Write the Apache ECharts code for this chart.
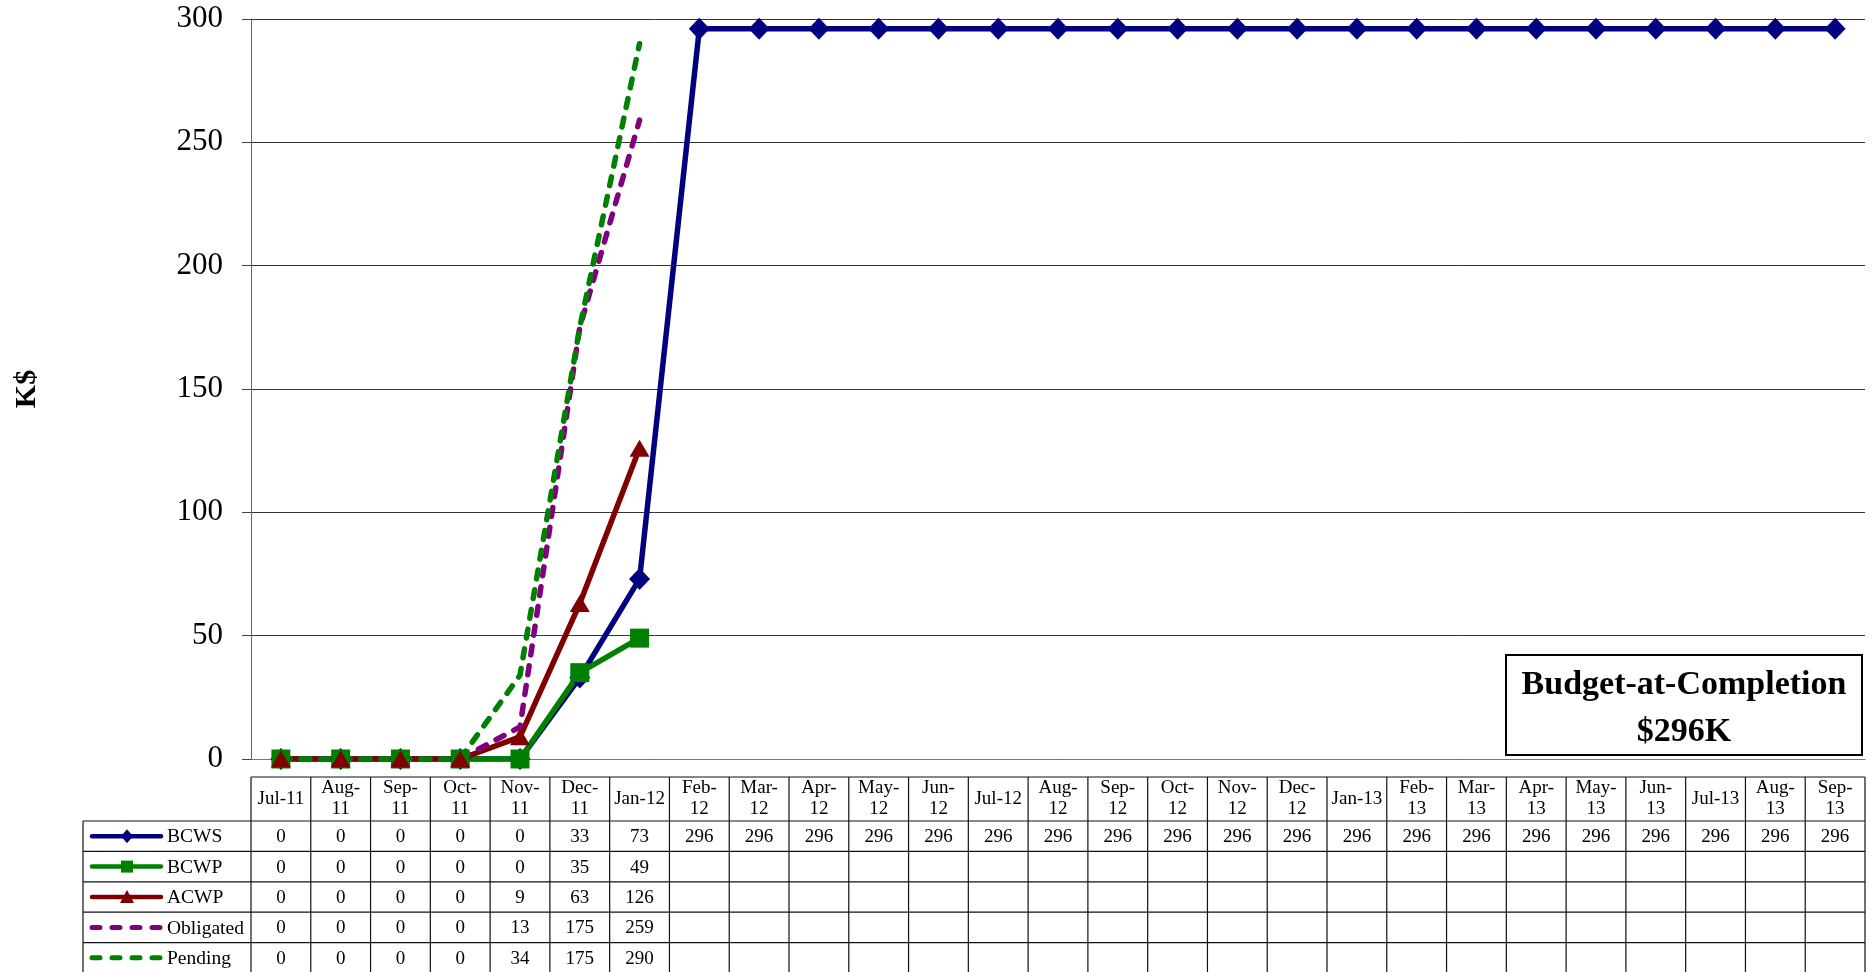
<!DOCTYPE html>
<html><head><meta charset="utf-8">
<script src="https://cdn.jsdelivr.net/npm/echarts@6/dist/echarts.min.js"></script>
<style>html,body{margin:0;padding:0;background:#fff}#c{width:1875px;height:972px}</style>
</head><body><div id="c"></div>
<script>
const categories = ['Jul-11','Aug-11','Sep-11','Oct-11','Nov-11','Dec-11','Jan-12','Feb-12','Mar-12','Apr-12','May-12','Jun-12','Jul-12','Aug-12','Sep-12','Oct-12','Nov-12','Dec-12','Jan-13','Feb-13','Mar-13','Apr-13','May-13','Jun-13','Jul-13','Aug-13','Sep-13'];
const tickLabels = ['Jul-11','Aug-\n11','Sep-\n11','Oct-\n11','Nov-\n11','Dec-\n11','Jan-12','Feb-\n12','Mar-\n12','Apr-\n12','May-\n12','Jun-\n12','Jul-12','Aug-\n12','Sep-\n12','Oct-\n12','Nov-\n12','Dec-\n12','Jan-13','Feb-\n13','Mar-\n13','Apr-\n13','May-\n13','Jun-\n13','Jul-13','Aug-\n13','Sep-\n13'];
const bcws = [0,0,0,0,0,33,73,296,296,296,296,296,296,296,296,296,296,296,296,296,296,296,296,296,296,296,296];
const bcwp = [0,0,0,0,0,35,49];
const acwp = [0,0,0,0,9,63,126];
const obligated = [0,0,0,0,13,175,259];
const pending = [0,0,0,0,34,175,290];
const seriesNames = ['BCWS','BCWP','ACWP','Obligated','Pending'];
const seriesData = [bcws, bcwp, acwp, obligated, pending];
const colors = ['#000080','#008000','#800000','#800080','#008000'];
const markers = ['diamond','rect','triangle','none','none'];
const dashed = [false,false,false,true,true];
const yMin = 0, yMax = 300, yStep = 50;
const annotation = ['Budget-at-Completion', '$296K'];

const FONT = 'Liberation Serif, Times New Roman, serif';
const chart = echarts.init(document.getElementById('c'), null, {renderer: 'canvas'});

const markerSizes = {diamond: [21, 22], rect: 19, triangle: [20, 17]};
const option = {
  animation: false,
  backgroundColor: '#fff',
  grid: {left: 251, right: 10, top: 19, bottom: 213, containLabel: false},
  xAxis: {
    type: 'category', data: categories, boundaryGap: true,
    axisLine: {show: true, lineStyle: {color: '#777', width: 1}},
    axisTick: {show: false}, axisLabel: {show: false}, splitLine: {show: false}
  },
  yAxis: {
    type: 'value', min: yMin, max: yMax, interval: yStep,
    name: 'K$', nameLocation: 'middle', nameRotate: 90, nameGap: 209,
    nameTextStyle: {fontFamily: FONT, fontSize: 30, fontWeight: 'bold', color: '#000'},
    axisLine: {show: true, lineStyle: {color: '#666', width: 1}},
    axisTick: {show: true, length: 9, lineStyle: {color: '#444'}},
    axisLabel: {fontFamily: FONT, fontSize: 31, color: '#000', margin: 28},
    splitLine: {show: true, lineStyle: {color: '#333', width: 1}}
  },
  series: seriesNames.map((name, k) => ({
    name, type: 'line', data: seriesData[k],
    symbol: markers[k], showSymbol: markers[k] !== 'none',
    symbolSize: markerSizes[markers[k]] || 0,
    lineStyle: dashed[k]
      ? {color: colors[k], width: 5.5, type: [9, 11], cap: 'round'}
      : {color: colors[k], width: 5.5, join: 'round'},
    itemStyle: {color: colors[k]}
  }))
};
chart.setOption(option);

// Data table under the chart, positioned from the category axis scale
const c0 = chart.convertToPixel({xAxisIndex: 0}, 0);
const c1 = chart.convertToPixel({xAxisIndex: 0}, 1);
const bw = c1 - c0;
const xLeft = c0 - bw / 2;
const n = categories.length;
const xRight = xLeft + bw * n;
const headTop = 777, headBottom = 821, rowH = 30.4, legLeft = 83;
const nRows = seriesNames.length;
const els = [];
const ls = {stroke: '#111', lineWidth: 1.2};
els.push({type: 'line', shape: {x1: xLeft, y1: headTop, x2: xRight, y2: headTop}, style: ls, silent: true});
for (let r = 0; r <= nRows; r++) {
  const y = headBottom + r * rowH;
  els.push({type: 'line', shape: {x1: legLeft, y1: y, x2: xRight, y2: y}, style: ls, silent: true});
}
const tableBottom = headBottom + nRows * rowH;
els.push({type: 'line', shape: {x1: legLeft, y1: headBottom, x2: legLeft, y2: tableBottom}, style: ls, silent: true});
for (let i = 0; i <= n; i++) {
  const x = xLeft + i * bw;
  els.push({type: 'line', shape: {x1: x, y1: headTop, x2: x, y2: tableBottom}, style: ls, silent: true});
}
for (let i = 0; i < n; i++) {
  const cx = chart.convertToPixel({xAxisIndex: 0}, i);
  els.push({type: 'text', x: cx, y: (headTop + headBottom) / 2, silent: true,
    style: {text: tickLabels[i], font: '19px ' + FONT, fill: '#000', align: 'center', verticalAlign: 'middle', lineHeight: 21}});
  for (let r = 0; r < nRows; r++) {
    const v = seriesData[r][i];
    if (v === undefined) continue;
    els.push({type: 'text', x: cx, y: headBottom + (r + 0.5) * rowH + 1, silent: true,
      style: {text: String(v), font: '19px ' + FONT, fill: '#000', align: 'center', verticalAlign: 'middle'}});
  }
}
// Legend keys in the table's first column
const kx1 = 92, kx2 = 161, kc = 127, tx = 167;
for (let r = 0; r < nRows; r++) {
  const y = headBottom + (r + 0.5) * rowH;
  const col = colors[r];
  els.push({type: 'line', shape: {x1: kx1, y1: y, x2: kx2, y2: y}, silent: true,
    style: dashed[r] ? {stroke: col, lineWidth: 5, lineCap: 'round', lineDash: [8, 12]} : {stroke: col, lineWidth: 4.5, lineCap: 'round'}});
  if (markers[r] === 'diamond') {
    els.push({type: 'polygon', shape: {points: [[kc, y - 7], [kc + 6, y], [kc, y + 7], [kc - 6, y]]}, style: {fill: col}, silent: true});
  } else if (markers[r] === 'rect') {
    els.push({type: 'rect', shape: {x: kc - 6, y: y - 6, width: 12, height: 12}, style: {fill: col}, silent: true});
  } else if (markers[r] === 'triangle') {
    els.push({type: 'polygon', shape: {points: [[kc, y - 7], [kc + 7, y + 6], [kc - 7, y + 6]]}, style: {fill: col}, silent: true});
  }
  els.push({type: 'text', x: tx, y: y + 1, silent: true,
    style: {text: seriesNames[r], font: '19.5px ' + FONT, fill: '#000', align: 'left', verticalAlign: 'middle'}});
}
// Budget-at-Completion box
els.push({type: 'rect', shape: {x: 1506, y: 655, width: 356, height: 100}, style: {fill: '#fff', stroke: '#000', lineWidth: 2}, silent: true});
els.push({type: 'text', x: 1684, y: 685, silent: true,
  style: {text: annotation[0], font: 'bold 34px ' + FONT, fill: '#000', align: 'center', verticalAlign: 'middle'}});
els.push({type: 'text', x: 1684, y: 732, silent: true,
  style: {text: annotation[1], font: 'bold 34px ' + FONT, fill: '#000', align: 'center', verticalAlign: 'middle'}});
chart.setOption({graphic: {elements: els}});
</script>
</body></html>
